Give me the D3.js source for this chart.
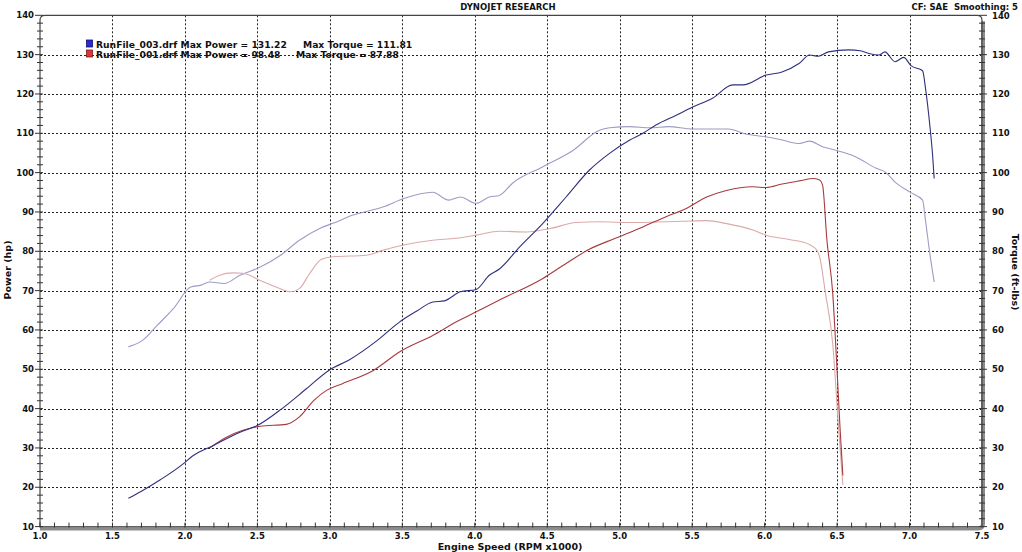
<!DOCTYPE html>
<html><head><meta charset="utf-8">
<script src="https://cdn.jsdelivr.net/npm/d3@7"></script>
<style>
html,body{margin:0;padding:0;background:#fff;}
svg{display:block;font-family:"DejaVu Sans",Verdana,sans-serif;font-weight:bold;}
text{white-space:pre;}
</style></head>
<body><svg id="c" width="1022" height="552"></svg>
<script>
// ---- data ----
const xTicks = [1.0,1.5,2.0,2.5,3.0,3.5,4.0,4.5,5.0,5.5,6.0,6.5,7.0,7.5];
const yTicks = [10,20,30,40,50,60,70,80,90,100,110,120,130,140];

const rpm003Power = [1.61,1.70,1.83,1.99,2.05,2.20,2.38,2.50,2.67,2.84,3.00,3.13,3.33,3.48,3.60,3.71,3.79,3.90,4.01,4.10,4.17,4.31,4.47,4.63,4.79,4.93,5.07,5.16,5.25,5.39,5.50,5.64,5.78,5.85,6.01,6.12,6.24,6.31,6.37,6.44,6.58,6.66,6.72,6.79,6.83,6.90,6.96,7.01,7.09,7.11,7.14,7.16,7.17];
const hp003 = [17.2,19.0,21.9,26.0,27.9,30.7,34.0,35.7,40.0,45.1,49.9,52.3,57.4,62.0,64.8,67.1,67.4,69.7,70.3,73.9,75.5,81.1,87.1,93.8,100.6,104.9,108.3,110.0,112.1,114.6,116.6,118.9,122.3,122.3,124.8,125.6,127.8,129.9,129.6,130.7,131.2,131.0,130.3,129.9,130.7,128.2,129.3,127.2,125.9,121.5,112.0,104.0,98.5];

const rpm003Torque = [1.61,1.71,1.81,1.92,2.04,2.11,2.17,2.27,2.38,2.52,2.66,2.79,2.93,3.02,3.16,3.37,3.51,3.71,3.82,3.90,4.01,4.10,4.17,4.26,4.47,4.68,4.86,4.93,5.07,5.21,5.34,5.50,5.75,5.87,6.01,6.12,6.24,6.31,6.40,6.49,6.63,6.77,6.83,6.90,7.00,7.09,7.11,7.14,7.17];
const tq003 = [55.7,57.4,61.2,65.4,70.9,71.4,72.2,71.8,73.9,76.0,79.0,82.8,85.8,87.1,89.2,91.3,93.4,95.0,93.0,93.8,92.2,93.8,94.2,97.3,101.5,105.7,110.8,111.4,111.7,111.4,111.7,111.1,111.1,109.8,109.1,108.3,107.4,108.0,106.6,105.7,104.0,101.1,100.2,97.6,95.1,93.0,87.9,79.4,72.2];

const rpm001Power = [2.17,2.29,2.40,2.52,2.70,2.79,2.89,2.98,3.09,3.30,3.48,3.71,3.87,4.01,4.17,4.47,4.63,4.79,4.97,5.16,5.32,5.46,5.60,5.73,5.92,6.01,6.12,6.24,6.34,6.38,6.40,6.43,6.47,6.50,6.52,6.54];
const hp001 = [30.0,32.8,34.5,35.5,36.0,37.9,42.1,44.7,46.4,49.7,54.4,58.6,62.0,64.6,67.6,73.1,76.9,80.5,83.3,86.2,88.8,90.9,93.8,95.4,96.4,96.2,97.1,97.9,98.5,98.1,96.8,82.8,69.3,49.7,35.3,23.0];

const rpm001Torque = [2.17,2.24,2.33,2.40,2.52,2.63,2.73,2.79,2.86,2.94,3.02,3.25,3.37,3.51,3.71,3.87,4.01,4.17,4.36,4.52,4.70,4.86,5.09,5.32,5.50,5.60,5.73,5.92,6.01,6.17,6.31,6.36,6.38,6.42,6.47,6.51,6.54];
const tq001 = [72.6,73.9,74.5,74.4,72.6,70.9,69.7,70.5,74.3,77.9,78.6,79.0,80.3,81.6,82.8,83.3,84.1,85.1,84.9,85.8,87.3,87.5,87.3,87.5,87.7,87.8,87.1,85.4,84.1,83.0,81.7,80.3,78.5,69.3,56.5,35.3,20.6];

const legendNames = ["RunFile_003.drf Max Power = 131.22","RunFile_001.drf Max Power = 98.48"];
const legendTorque = ["Max Torque = 111.81","Max Torque = 87.88"];

// ---- drawing ----
const svg = d3.select("#c");
const L = 40, R = 982, T = 15.3, B = 526.6;
const x = d3.scaleLinear().domain([1,7.5]).range([L, R]);
const y = d3.scaleLinear().domain([10,140]).range([B, T]);

// grid
const g = svg.append("g");
g.selectAll(".vg").data(xTicks.filter(t=>t>1 && t<7.5)).join("line")
  .attr("x1",d=>Math.round(x(d))+0.5).attr("x2",d=>Math.round(x(d))+0.5)
  .attr("y1",T).attr("y2",B).attr("stroke","#222").attr("stroke-width",1).attr("stroke-dasharray","2,2");
g.selectAll(".hg").data(yTicks.filter(t=>t>10 && t<140)).join("line")
  .attr("y1",d=>Math.round(y(d))+0.5).attr("y2",d=>Math.round(y(d))+0.5)
  .attr("x1",L).attr("x2",R).attr("stroke","#222").attr("stroke-width",1).attr("stroke-dasharray","2,2");

// frame: thick gray bottom/right
svg.append("path")
  .attr("d",`M${L},${B+2} H${R-4} Q${R+1},${B+2} ${R+1},${B-3} V${T+6}`)
  .attr("fill","none").attr("stroke","#8c8c8c").attr("stroke-width",4);
svg.append("path")
  .attr("d",`M${L},${B} V${T+5} Q${L},${T} ${L+5},${T} H${R-5} Q${R},${T} ${R},${T+5} V${B-4}`)
  .attr("fill","none").attr("stroke","#444").attr("stroke-width",1.2);
svg.append("line").attr("x1",L).attr("x2",R-3).attr("y1",B).attr("y2",B).attr("stroke","#555").attr("stroke-width",1);

// x ticks
const xMinor = d3.range(10,76).map(v=>v/10);
svg.append("g").selectAll("line").data(xMinor).join("line")
  .attr("x1",d=>x(d)).attr("x2",d=>x(d)).attr("y1",B-4).attr("y2",B+1)
  .attr("stroke","#333").attr("stroke-width",1);
svg.append("g").selectAll("text").data(xTicks).join("text")
  .attr("x",d=>x(d)).attr("y",539).attr("text-anchor","middle")
  .attr("font-size",8.5).attr("fill","#111").text(d=>d.toFixed(1));

// y ticks (left & right)
const yMinor = d3.range(10,141,2);
svg.append("g").selectAll("line").data(yMinor).join("line")
  .attr("x1",d=>d%10===0?L-5:L-3).attr("x2",L+3).attr("y1",d=>y(d)).attr("y2",d=>y(d))
  .attr("stroke","#333").attr("stroke-width",1);
svg.append("g").selectAll("line").data(yMinor).join("line")
  .attr("x1",R-3).attr("x2",d=>d%10===0?R+5:R+3).attr("y1",d=>y(d)).attr("y2",d=>y(d))
  .attr("stroke","#333").attr("stroke-width",1);
svg.append("g").selectAll("text").data(yTicks).join("text")
  .attr("x",34).attr("y",d=>y(d)+3).attr("text-anchor","end")
  .attr("font-size",8.5).attr("fill","#111").text(d=>d);
svg.append("g").selectAll("text").data(yTicks).join("text")
  .attr("x",992).attr("y",d=>y(d)+(d===140?4:3)).attr("text-anchor","start")
  .attr("font-size",8.5).attr("fill","#111").text(d=>d);

// axis titles
svg.append("text").attr("x",510).attr("y",550).attr("text-anchor","middle")
  .attr("font-size",9.5).attr("fill","#111").text("Engine Speed (RPM x1000)");
svg.append("text").attr("transform","translate(11,270) rotate(-90)").attr("text-anchor","middle")
  .attr("font-size",9.5).attr("fill","#111").text("Power (hp)");
svg.append("text").attr("transform","translate(1012,272) rotate(90)").attr("text-anchor","middle")
  .attr("font-size",9.5).attr("fill","#111").text("Torque (ft-lbs)");

// header
svg.append("text").attr("x",508).attr("y",9.5).attr("text-anchor","middle")
  .attr("font-size",8.5).attr("fill","#111").text("DYNOJET RESEARCH");
svg.append("text").attr("x",1018).attr("y",9.5).attr("text-anchor","end")
  .attr("font-size",8.5).attr("fill","#111").text("CF: SAE  Smoothing: 5");

// curves
const line = d3.line().x(d=>x(d[0])).y(d=>y(d[1])).curve(d3.curveMonotoneX);
const zip = (a,b)=>a.map((v,i)=>[v,b[i]]);
const series = [
  {d: zip(rpm003Torque, tq003), c: "#9d9cc6"},
  {d: zip(rpm001Torque, tq001), c: "#dcaaa8"},
  {d: zip(rpm001Power, hp001), c: "#a83a3e"},
  {d: zip(rpm003Power, hp003), c: "#30307e"}
];
svg.append("g").selectAll("path").data(series).join("path")
  .attr("d",s=>line(s.d)).attr("fill","none").attr("stroke",s=>s.c).attr("stroke-width",1.1);

// legend
const legColors = [["#2a2ad0","#101070"],["#d83838","#801818"]];
const lg = svg.append("g");
legendNames.forEach((n,i)=>{
  const yy = 47.5 + i*10;
  lg.append("rect").attr("x",86.5).attr("y",yy-7.5).attr("width",6).attr("height",7)
    .attr("fill",legColors[i][0]).attr("stroke",legColors[i][1]).attr("stroke-width",0.8);
  lg.append("text").attr("x",96).attr("y",yy).attr("font-size",9.2).attr("fill","#111").text(n);
  lg.append("text").attr("x",i===0?303:296).attr("y",yy).attr("font-size",9.2).attr("fill","#111").text(legendTorque[i]);
});
</script></body></html>
